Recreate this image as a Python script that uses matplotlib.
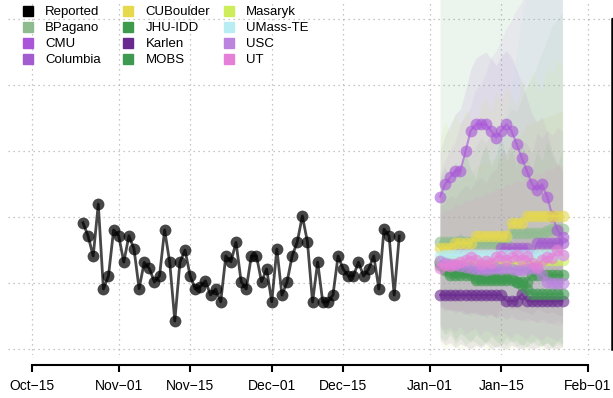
import numpy as np
import pandas as pd
import matplotlib
matplotlib.use("Agg")
import matplotlib.pyplot as plt
import matplotlib.dates as mdates
from matplotlib.lines import Line2D

plt.rcParams['font.family'] = ['Liberation Sans', 'DejaVu Sans']

# -------------------------------
# DATA
# -------------------------------
obs_dates = pd.date_range('2020-10-25', periods=63, freq='D')
reported = [957, 856, 705, 1098, 455, 555, 902, 858, 659, 858,
            758, 457, 657, 611, 508, 553, 902, 657, 212, 657,
            750, 555, 455, 472, 517, 409, 455, 358, 705, 661,
            808, 510, 455, 705, 705, 510, 606, 358, 758, 409,
            508, 705, 811, 1008, 811, 356, 659, 356, 356, 409,
            705, 606, 553, 553, 659, 553, 606, 705, 455, 909,
            856, 409, 856]

proj_dates = pd.date_range('2021-01-03', periods=25, freq='D')

models = ['BPagano', 'CMU', 'Columbia', 'CUBoulder', 'JHU-IDD', 'Karlen',
          'MOBS', 'Masaryk', 'UMass-TE', 'USC', 'UT']
colors = ['#8fbc8f', '#a957d8', '#a35cd0', '#e6d94b', '#3e9a4c', '#69298f',
          '#3f9a51', '#cdee5a', '#b8eef3', '#ba84df', '#e67fd8']

bpagano = [811, 811, 811, 811, 820, 811, 811, 803, 803, 803, 803, 803, 803,
           803, 879, 879, 879, 879, 879, 879, 879, 894, 909, 909, 909]
cmu = [1154, 1250, 1301, 1351, 1351, 1500, 1654, 1702, 1702, 1702, 1654, 1601,
       1654, 1702, 1654, 1553, 1449, 1351, 1250, 1205, 1250, 1154, 1008, 902, 851]
columbia = [659, 659, 652, 644, 644, 629, 629, 629, 623, 629, 629, 629, 765,
            765, 765, 765, 765, 765, 705, 803, 803, 803, 803, 803, 803]
cuboulder = [765, 765, 765, 803, 803, 803, 803, 856, 856, 856, 856, 856, 856,
             856, 955, 955, 955, 1008, 1008, 1008, 1008, 1008, 1008, 1008, 1008]
jhu = [659, 614, 583, 583, 583, 583, 583, 538, 538, 538, 538, 538, 538,
       538, 538, 508, 508, 508, 561, 561, 561, 561, 561, 561, 561]
karlen = [409, 409, 409, 409, 409, 409, 409, 409, 409, 409, 409, 409, 409,
          364, 364, 364, 417, 364, 364, 364, 364, 364, 364, 364, 364]
mobs = [636, 598, 561, 561, 561, 561, 561, 523, 523, 523, 523, 523, 523,
        523, 523, 508, 485, 455, 417, 417, 417, 417, 417, 417, 417]
masaryk = [674, 674, 667, 667, 667, 667, 667, 667, 667, 659, 659, 659, 659,
           659, 667, 667, 667, 667, 667, 667, 674, 674, 674, 674, 674]
umass = [705, 712, 712, 712, 712, 712, 712, 712, 712, 712, 712, 712, 712,
         712, 712, 712, 712, 712, 712, 712, 712, 712, 712, 712, 712]
usc = [667, 652, 644, 636, 629, 621, 614, 606, 606, 598, 606, 614, 606,
       614, 606, 598, 598, 606, 614, 606, 561, 508, 502, 502, 502]
ut = [614, 636, 629, 644, 659, 674, 697, 674, 644, 667, 652, 697, 705,
      674, 697, 712, 674, 705, 652, 621, 674, 697, 689, 750, 712]
medians = [bpagano, cmu, columbia, cuboulder, jhu, karlen, mobs, masaryk, umass, usc, ut]

# 95% prediction interval bounds (rough reading of the shaded fans)
bpagano_lo = [320, 290, 310, 270, 300, 280, 250, 290, 260, 240, 270, 230, 250,
              220, 260, 230, 210, 240, 220, 200, 230, 210, 190, 220, 200]
bpagano_hi = [1250, 1300, 1380, 1350, 1420, 1480, 1450, 1530, 1600, 1560, 1650, 1700, 1680,
              1760, 1820, 1800, 1900, 1980, 2050, 2150, 2250, 2350, 2450, 2500, 2550]
cmu_lo = [640, 700, 690, 720, 700, 780, 820, 850, 840, 860, 830, 800, 820,
          850, 830, 760, 700, 640, 600, 560, 590, 540, 480, 420, 380]
cmu_hi = [1500, 1620, 1700, 1780, 1820, 1960, 2120, 2200, 2230, 2250, 2200, 2150, 2220,
          2260, 2210, 2120, 2020, 1900, 1780, 1720, 1760, 1650, 1500, 1400, 1350]
columbia_lo = [330, 310, 290, 300, 280, 260, 280, 270, 250, 270, 260, 240, 330,
               320, 300, 310, 290, 280, 260, 300, 290, 270, 280, 260, 250]
columbia_hi = [1080, 1120, 1160, 1140, 1200, 1240, 1210, 1270, 1300, 1260, 1330, 1360, 1520,
               1480, 1550, 1530, 1580, 1560, 1480, 1640, 1600, 1660, 1620, 1680, 1650]
cuboulder_lo = [430, 410, 420, 440, 430, 450, 440, 470, 460, 480, 470, 490, 480,
                500, 530, 520, 540, 560, 550, 570, 560, 580, 570, 590, 580]
cuboulder_hi = [1150, 1180, 1210, 1260, 1280, 1300, 1320, 1380, 1400, 1410, 1430, 1450, 1460,
                1480, 1580, 1600, 1620, 1700, 1710, 1730, 1740, 1760, 1770, 1790, 1800]
jhu_lo = [160, 110, 140, 70, 120, 90, 50, 110, 80, 40, 100, 60, 30,
          90, 50, 70, 20, 60, 40, 80, 30, 50, 20, 60, 40]
jhu_hi = [1300, 1380, 1250, 1420, 1330, 1480, 1360, 1290, 1450, 1550, 1380, 1470, 1620,
          1420, 1510, 1380, 1560, 1450, 1350, 1500, 1420, 1580, 1460, 1390, 1520]
karlen_lo = [70, 30, 50, 10, 40, 20, 0, 30, 10, 40, 0, 20, 10,
             0, 30, 10, 0, 20, 0, 10, 30, 0, 10, 0, 20]
karlen_hi = [820, 760, 850, 790, 880, 810, 770, 860, 900, 830, 870, 800, 920,
             850, 810, 890, 840, 930, 870, 820, 900, 860, 940, 880, 910]
mobs_lo = [90, 60, 110, 40, 80, 30, 70, 50, 20, 60, 40, 10, 50,
           30, 70, 20, 40, 10, 60, 30, 20, 50, 10, 40, 20]
mobs_hi = [2900, 2900, 2900, 2900, 2900, 2900, 2900, 2900, 2900, 2900, 2900, 2900, 2900,
           2900, 2900, 2900, 2900, 2900, 2900, 2900, 2900, 2900, 2900, 2900, 2900]
masaryk_lo = [40, 0, 30, 10, 0, 20, 0, 10, 30, 0, 0, 20, 10,
              0, 0, 30, 0, 10, 0, 20, 0, 0, 10, 0, 10]
masaryk_hi = [1600, 1720, 1650, 1780, 1700, 1820, 1750, 1680, 1850, 1900, 1800, 1950, 1870,
              2000, 1920, 1850, 2050, 1980, 2100, 2020, 1950, 2150, 2080, 2200, 2120]
umass_lo = [420, 400, 380, 410, 390, 370, 400, 380, 360, 390, 370, 350, 380,
            360, 340, 370, 350, 330, 360, 340, 320, 350, 330, 310, 340]
umass_hi = [1150, 1220, 1180, 1260, 1300, 1250, 1340, 1380, 1330, 1420, 1480, 1550, 1650,
            1800, 2000, 2250, 2500, 2700, 2800, 2850, 2900, 2950, 3000, 3000, 3000]
usc_lo = [180, 140, 160, 120, 170, 110, 130, 150, 100, 140, 120, 90, 130,
          110, 80, 120, 100, 70, 110, 90, 60, 100, 80, 60, 90]
usc_hi = [1330, 1420, 1500, 1560, 1700, 1760, 1820, 1960, 2000, 2080, 2200, 2250, 2330,
          2420, 2480, 2560, 2620, 2700, 2800, 2900, 2950, 3000, 3050, 3100, 3150]
ut_lo = [310, 290, 300, 280, 290, 270, 280, 260, 270, 250, 260, 240, 250,
         230, 240, 220, 230, 210, 220, 200, 210, 190, 200, 180, 190]
ut_hi = [1020, 1060, 1050, 1100, 1090, 1130, 1120, 1160, 1150, 1190, 1180, 1220, 1210,
         1250, 1240, 1280, 1270, 1310, 1300, 1340, 1330, 1370, 1360, 1400, 1390]
lowers = [bpagano_lo, cmu_lo, columbia_lo, cuboulder_lo, jhu_lo, karlen_lo,
          mobs_lo, masaryk_lo, umass_lo, usc_lo, ut_lo]
uppers = [bpagano_hi, cmu_hi, columbia_hi, cuboulder_hi, jhu_hi, karlen_hi,
          mobs_hi, masaryk_hi, umass_hi, usc_hi, ut_hi]

tick_dates = pd.to_datetime(['2020-10-15', '2020-11-01', '2020-11-15', '2020-12-01',
                             '2020-12-15', '2021-01-01', '2021-01-15', '2021-02-01'])
tick_labels = ['Oct\u221215', 'Nov\u221201', 'Nov\u221215', 'Dec\u221201',
               'Dec\u221215', 'Jan\u221201', 'Jan\u221215', 'Feb\u221201']
y_ticks = [0, 500, 1000, 1500, 2000, 2500]

# -------------------------------
# FIGURE
# -------------------------------
W, H = 613, 398
fig = plt.figure(figsize=(W / 100, H / 100), dpi=100)
ax = fig.add_axes([8 / W, 1 - 355 / H, (611.5 - 8) / W, 355 / H])

# shaded prediction intervals
for lo, hi, c in zip(lowers, uppers, colors):
    ax.fill_between(proj_dates, lo, hi, color=c, alpha=0.1, linewidth=0, zorder=1)

# reported series
ax.plot(obs_dates, reported, color='black', alpha=0.72, lw=2, marker='o',
        ms=8.5, mec='none', zorder=3)

# model medians
for m, c in zip(medians, colors):
    ax.plot(proj_dates, m, color=c, alpha=0.62, lw=1.5, marker='o',
            ms=8.5, mec='none', zorder=3)

# axes limits
tnum = mdates.date2num(tick_dates)
ax.set_xlim(tnum[0] - 4.7, tnum[-1] + 4.6)
ax.set_ylim(-45, 2644)

ax.set_xticks(tnum)
ax.set_xticklabels(tick_labels, fontsize=11)
ax.set_yticks(y_ticks)
ax.tick_params(axis='x', direction='out', length=5, width=1.5, pad=5)
ax.tick_params(axis='y', left=False, labelleft=False, right=True, labelright=False,
               direction='out', length=5, width=1.5)

ax.grid(True, linestyle=(0, (1, 3)), color='#b5b5b5', lw=0.9, zorder=0)
ax.set_axisbelow(True)

for s in ['top', 'left']:
    ax.spines[s].set_visible(False)
ax.spines['bottom'].set_position(('outward', 7))
ax.spines['bottom'].set_bounds(tnum[0], tnum[-1])
ax.spines['bottom'].set_linewidth(1.5)
ax.spines['right'].set_bounds(0, 2500)
ax.spines['right'].set_linewidth(1.8)

# legend in three columns
labels = ['Reported'] + models
leg_colors = ['black'] + colors
col_x = [21, 121.5, 222]
for k in range(3):
    hs = [Line2D([], [], marker='s', linestyle='none', color=leg_colors[i],
                 markersize=7.5) for i in range(4 * k, 4 * k + 4)]
    leg = fig.legend(hs, labels[4 * k:4 * k + 4], loc='upper left',
                     bbox_to_anchor=(col_x[k] / W, 1 - 6 / H),
                     frameon=False, fontsize=9.5, handlelength=1.0, handletextpad=0.83,
                     labelspacing=0.29, borderpad=0, borderaxespad=0)

fig.savefig('out.png', dpi=100)
